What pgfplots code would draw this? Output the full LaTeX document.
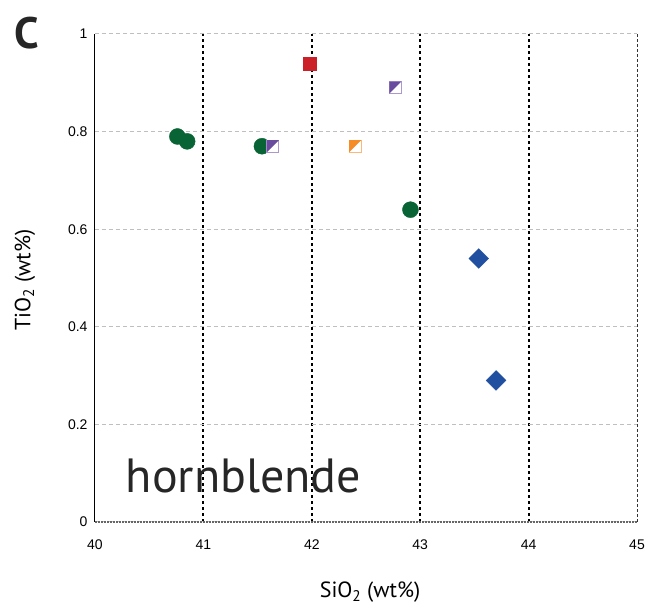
\documentclass[border=0pt]{standalone}
\usepackage{pgfplots}
\pgfplotsset{compat=1.18}
\usepackage{fontspec}
\setmainfont{Liberation Sans}
\newfontfamily\myr{PT Sans}
\definecolor{hbGreen}{RGB}{8,100,52}
\definecolor{hbRed}{RGB}{204,32,40}
\definecolor{hbBlue}{RGB}{33,80,160}
\definecolor{purpDark}{RGB}{106,76,158}
\definecolor{purpLight}{RGB}{170,152,206}
\definecolor{orDark}{RGB}{246,140,40}
\definecolor{orLight}{RGB}{250,185,120}

% half-filled square: white square, light border, dark upper-left triangle
\newcommand{\halfsq}[3]{%
\pgfdeclareplotmark{#1}{%
  \pgfsetfillcolor{white}\pgfsetstrokecolor{#3}\pgfsetlinewidth{1.2pt}%
  \pgfpathrectangle{\pgfpoint{-\pgfplotmarksize}{-\pgfplotmarksize}}{\pgfpoint{2\pgfplotmarksize}{2\pgfplotmarksize}}%
  \pgfusepathqfillstroke
  \pgfsetfillcolor{#2}%
  \pgfpathmoveto{\pgfpoint{-\pgfplotmarksize}{-\pgfplotmarksize}}%
  \pgfpathlineto{\pgfpoint{-\pgfplotmarksize}{\pgfplotmarksize}}%
  \pgfpathlineto{\pgfpoint{\pgfplotmarksize}{\pgfplotmarksize}}%
  \pgfpathclose
  \pgfusepathqfill}}
\halfsq{halfpurp}{purpDark}{purpLight}
\halfsq{halforange}{orDark}{orLight}

\begin{document}
\begin{tikzpicture}
\useasboundingbox (-95pt,-88pt) rectangle (554pt,522pt);
\begin{axis}[at={(0,0)},anchor=south west,scale only axis,width=542pt,height=488pt,
  xmin=40,xmax=45,ymin=0,ymax=1,
  xtick={41,42,43,44},extra x ticks={40,45},
  extra x tick style={grid=none},
  ytick={0,0.2,0.4,0.6,0.8,1},
  yticklabels={0,0.2,0.4,0.6,0.8,1},
  major tick length=0pt,
  axis line style={draw=none},
  xmajorgrids,ymajorgrids,
  x grid style={black,line width=2pt,dash pattern=on 3pt off 3pt},
  y grid style={gray!50,line width=1pt,dash pattern=on 4pt off 3pt},
  tick label style={font=\fontsize{14}{16}\selectfont},
  /pgf/number format/assume math mode=true,
  xticklabel style={yshift=-14pt},
  yticklabel style={xshift=-4pt},
  clip=false]
\draw[black,line width=1pt] (axis cs:40,0)--(axis cs:40,1);
\draw[gray!80!black,line width=1.2pt,dash pattern=on 2pt off 1pt] (axis cs:40,0)--(axis cs:45,0);
\draw[black!80,line width=1pt,dash pattern=on 3pt off 2pt] (axis cs:45,0)--(axis cs:45,1);
\addplot[only marks,mark=*,mark size=8pt,hbGreen] coordinates{(40.76,0.79)(40.85,0.78)(41.54,0.77)(42.91,0.64)};
\addplot[only marks,mark=square*,mark size=6.5pt,hbRed] coordinates{(41.98,0.94)};
\addplot[only marks,mark=halfpurp,mark size=6pt] coordinates{(41.64,0.77)(42.77,0.89)};
\addplot[only marks,mark=halforange,mark size=6pt] coordinates{(42.40,0.77)};
\addplot[only marks,mark=square*,mark size=7pt,mark options={rotate=45},hbBlue] coordinates{(43.54,0.54)(43.70,0.29)};
\node[font=\myr\fontsize{48}{50}\selectfont,text=black!85] at (axis cs:41.37,0.095) {hornblende};
\end{axis}
\node[font=\myr\fontsize{22}{24}\selectfont,rotate=90] at (-70pt,242pt) {TiO\textsubscript{2} (wt\%)};
\node[font=\myr\fontsize{22}{24}\selectfont] at (275pt,-70pt) {SiO\textsubscript{2} (wt\%)};
\node[font=\myr\bfseries\fontsize{44}{46}\selectfont,text=black!85] at (-68pt,489pt) {C};
\end{tikzpicture}
\end{document}
